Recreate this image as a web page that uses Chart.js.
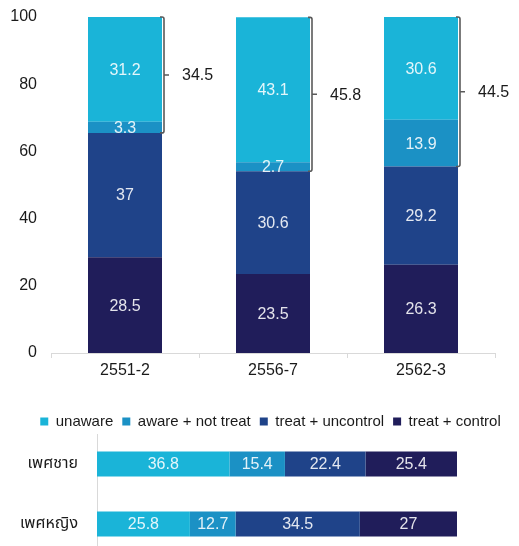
<!DOCTYPE html>
<html>
<head>
<meta charset="utf-8">
<script src="https://cdn.jsdelivr.net/npm/chart.js@4.4.1/dist/chart.umd.min.js"></script>
<style>
    html, body { margin:0; padding:0; background:#fff; overflow:hidden; width:519px; height:546px; }
    #cajaPeriodo { position:absolute; left:11px; top:0; width:519px; height:439px; }
    #cajaSexo { position:absolute; left:0; top:434px; width:519px; height:120px; }
</style>
</head>
<body>
<div id="cajaPeriodo"><canvas id="barPeriodo"></canvas></div>
<div id="cajaSexo"><canvas id="barSexo"></canvas></div>
<script>
// datos por periodo (grafica de arriba)
var periodos = ['2551-2', '2556-7', '2562-3'];
var unawarePeriodo = [31.2, 43.1, 30.6];
var awarePeriodo = [3.3, 2.7, 13.9];
var uncontrolPeriodo = [37, 30.6, 29.2];
var controlPeriodo = [28.5, 23.5, 26.3];
var ticksY = [0, 20, 40, 60, 80, 100];

// datos por sexo (grafica de abajo)
var sexos = ['เพศชาย', 'เพศหญิง'];
var unawareSexo = [36.8, 25.8];
var awareSexo = [15.4, 12.7];
var uncontrolSexo = [22.4, 34.5];
var controlSexo = [25.4, 27];

var etiquetas = ['unaware', 'aware + not treat', 'treat + uncontrol', 'treat + control'];
var colores = ['#1ab4d8', '#1b91c5', '#1f4389', '#201d5a'];
var fuente = '"Liberation Sans", "Noto Sans Thai", Arial, sans-serif';

Chart.defaults.font.family = fuente;
Chart.defaults.color = '#1a1a1a';
Chart.defaults.animation = false;

/**
 * Numeros blancos dentro de cada segmento
 */
var numerosBarras = {
    id: 'numerosBarras',
    afterDatasetsDraw: function(chart){
        var ctx = chart.ctx;
        ctx.save();
        ctx.font = '16px ' + fuente;
        ctx.fillStyle = 'rgba(255,255,255,0.88)';
        ctx.textAlign = 'center';
        ctx.textBaseline = 'middle';
        chart.data.datasets.forEach(function(ds, i){
            chart.getDatasetMeta(i).data.forEach(function(bar, j){
                var p = bar.getCenterPoint();
                ctx.fillText(ds.data[j], p.x, p.y + 1);
            });
        });
        ctx.restore();
    }
};

/**
 * Llave de unaware + aware con su suma
 */
var llaves = {
    id: 'llaves',
    afterDatasetsDraw: function(chart){
        var ctx = chart.ctx;
        var metaUnaware = chart.getDatasetMeta(3);
        var metaAware = chart.getDatasetMeta(2);
        ctx.save();
        ctx.strokeStyle = '#5a5a5a';
        ctx.lineWidth = 1.6;
        ctx.fillStyle = '#1a1a1a';
        ctx.font = '16px ' + fuente;
        ctx.textAlign = 'left';
        ctx.textBaseline = 'middle';
        metaUnaware.data.forEach(function(bar, j){
            var arriba = bar.y;
            var abajo = metaAware.data[j].base;
            var x = bar.x + bar.width / 2 + 2;
            var medio = (arriba + abajo) / 2;
            ctx.beginPath();
            ctx.moveTo(x - 4, arriba);
            ctx.arcTo(x, arriba, x, arriba + 3, 2);
            ctx.lineTo(x, abajo - 3);
            ctx.arcTo(x, abajo, x - 4, abajo, 2);
            ctx.lineTo(x - 4, abajo);
            ctx.moveTo(x, medio);
            ctx.lineTo(x + 5, medio);
            ctx.stroke();
            ctx.fillText((unawarePeriodo[j] + awarePeriodo[j]).toFixed(1), x + 18, medio + 1);
        });
        ctx.restore();
    }
};

// quita el relleno que chart.js agrega por las etiquetas
function sinRelleno(s){
    s.paddingTop = 0;
    s.paddingBottom = 0;
}

var ctx1 = document.getElementById('barPeriodo').getContext('2d');
var graficaPeriodo = new Chart(ctx1, {
    type: 'bar',
    data: {
        labels: periodos,
        datasets: [
            { label: etiquetas[3], data: controlPeriodo, backgroundColor: colores[3] },
            { label: etiquetas[2], data: uncontrolPeriodo, backgroundColor: colores[2] },
            { label: etiquetas[1], data: awarePeriodo, backgroundColor: colores[1] },
            { label: etiquetas[0], data: unawarePeriodo, backgroundColor: colores[0] }
        ].map(function(ds){
            ds.barPercentage = 0.5;
            ds.categoryPercentage = 1;
            return ds;
        })
    },
    options: {
        responsive: true,
        maintainAspectRatio: false,
        layout: { padding: { top: 17, right: 0, left: 0, bottom: 0 } },
        plugins: {
            tooltip: { enabled: false },
            legend: {
                position: 'bottom',
                reverse: true,
                labels: { boxWidth: 8, boxHeight: 8, padding: 9, font: { size: 15 }, color: '#1a1a1a' }
            }
        },
        scales: {
            x: {
                stacked: true,
                grid: { offset: true, drawOnChartArea: false, tickLength: 5, color: '#d9d9d9' },
                border: { color: '#d9d9d9' },
                ticks: { font: { size: 16 }, padding: 3 },
                afterFit: function(s){ s.height = 52; }
            },
            y: {
                stacked: true,
                min: 0,
                max: 100,
                afterBuildTicks: function(s){ s.ticks = ticksY.map(function(v){ return { value: v }; }); },
                ticks: { font: { size: 16 }, padding: 14 },
                grid: { display: false, drawTicks: false },
                border: { display: false },
                afterFit: function(s){ s.width = 40; sinRelleno(s); }
            },
            derecha: {
                position: 'right',
                type: 'linear',
                display: true,
                ticks: { display: false },
                grid: { display: false, drawTicks: false },
                border: { display: false },
                afterFit: function(s){ s.width = 35; sinRelleno(s); }
            }
        }
    },
    plugins: [numerosBarras, llaves]
});

var ctx2 = document.getElementById('barSexo').getContext('2d');
var datosSexo = [unawareSexo, awareSexo, uncontrolSexo, controlSexo];
var graficaSexo = new Chart(ctx2, {
    type: 'bar',
    data: {
        labels: sexos,
        datasets: datosSexo.map(function(d, i){
            return {
                label: etiquetas[i],
                data: d,
                backgroundColor: colores[i],
                barPercentage: 25 / 60,
                categoryPercentage: 1
            };
        })
    },
    options: {
        indexAxis: 'y',
        responsive: true,
        maintainAspectRatio: false,
        layout: { padding: { top: 0, right: 62, left: 0, bottom: 0 } },
        plugins: { tooltip: { enabled: false }, legend: { display: false } },
        scales: {
            x: { stacked: true, min: 0, max: 100, display: false },
            y: {
                stacked: true,
                grid: { display: false, drawTicks: false },
                border: { color: '#d9d9d9' },
                ticks: { font: { size: 16 }, padding: 19 },
                afterFit: function(s){ s.width = 97; sinRelleno(s); }
            }
        }
    },
    plugins: [numerosBarras]
});
</script>
</body>
</html>
